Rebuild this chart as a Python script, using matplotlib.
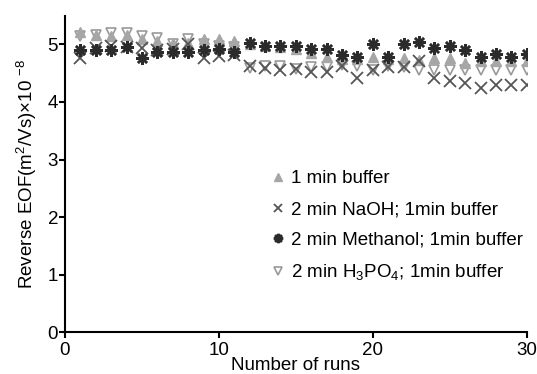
import matplotlib
matplotlib.use("Agg")
import matplotlib.pyplot as plt
import numpy as np

plt.rcParams['font.family'] = ['Liberation Sans', 'DejaVu Sans']
plt.rcParams['mathtext.fontset'] = 'custom'
plt.rcParams['mathtext.rm'] = 'Liberation Sans'
plt.rcParams['mathtext.it'] = 'Liberation Sans'

runs = list(range(1, 31))
buffer_1min = [5.22, 5.17, 5.15, 5.16, 5.10, 5.06, 5.03, 5.02, 5.10, 5.09,
               5.06, 5.00, 4.98, 4.95, 4.92, 4.85, 4.78, 4.75, 4.74, 4.79,
               4.75, 4.77, 4.73, 4.77, 4.77, 4.68, 4.72, 4.71, 4.71, 4.71]
naoh = [4.77, 4.93, 4.97, 4.96, 4.94, 4.90, 4.92, 5.00, 4.77, 4.80,
        4.82, 4.63, 4.59, 4.56, 4.57, 4.52, 4.52, 4.62, 4.42, 4.56,
        4.60, 4.60, 4.71, 4.42, 4.36, 4.33, 4.24, 4.30, 4.29, 4.29]
methanol = [4.90, 4.91, 4.90, 4.95, 4.77, 4.87, 4.87, 4.87, 4.91, 4.92,
            4.87, 5.03, 4.97, 4.97, 4.98, 4.92, 4.92, 4.81, 4.78, 5.00,
            4.78, 5.00, 5.04, 4.94, 4.97, 4.91, 4.78, 4.84, 4.79, 4.84]
h3po4 = [5.14, 5.17, 5.20, 5.20, 5.14, 5.11, 5.00, 5.10, 5.00, 4.98,
         4.95, 4.59, 4.63, 4.62, 4.58, 4.60, 4.60, 4.65, 4.63, 4.56,
         4.63, 4.60, 4.56, 4.56, 4.56, 4.56, 4.55, 4.56, 4.56, 4.56]

labels = ['1 min buffer', '2 min NaOH; 1min buffer',
          '2 min Methanol; 1min buffer', r'2 min H$_3$PO$_4$; 1min buffer']

FS = 13.5

fig = plt.figure(figsize=(5.37, 3.74), dpi=100)
ax = fig.add_axes([0.121, 0.112, 0.86, 0.846])

ax.plot(runs, buffer_1min, linestyle='none', marker='^', ms=7,
        color='#a6a6a6', mec='#a6a6a6', label=labels[0], zorder=2)
ax.plot(runs, naoh, linestyle='none', marker='x', ms=8, mew=1.3,
        color='#555555', label=labels[1], zorder=3)
ax.plot(runs, methanol, linestyle='none', marker=(8, 2, 0), ms=9, mew=1.8,
        color='#2b2b2b', label=labels[2], zorder=4)
ax.plot(runs, h3po4, linestyle='none', marker='v', ms=7, mew=1.2,
        mfc='white', mec='#999999', label=labels[3], zorder=1)

ax.set_xlim(0, 30)
ax.set_ylim(0, 5.5)
ax.set_xticks([0, 10, 20, 30])
ax.set_yticks([0, 1, 2, 3, 4, 5])
ax.spines['top'].set_visible(False)
ax.spines['right'].set_visible(False)
ax.spines['left'].set_linewidth(1.5)
ax.spines['bottom'].set_linewidth(1.5)
ax.tick_params(direction='out', length=4, width=1.5, labelsize=FS,
               colors='black', pad=1)
ax.tick_params(axis='x', pad=3)
ax.set_xlabel('Number of runs', fontsize=FS, labelpad=-1.5)
ax.set_ylabel(r'Reverse EOF(m$^2$/Vs)$\times$10 $^{-8}$', fontsize=FS, labelpad=6)

leg = ax.legend(loc='upper left', bbox_to_anchor=(0.43, 0.535), frameon=False,
                fontsize=FS, handlelength=0.7, handletextpad=0.35,
                labelspacing=0.72, markerscale=0.75, borderaxespad=0)

fig.savefig('out.png', dpi=100)
